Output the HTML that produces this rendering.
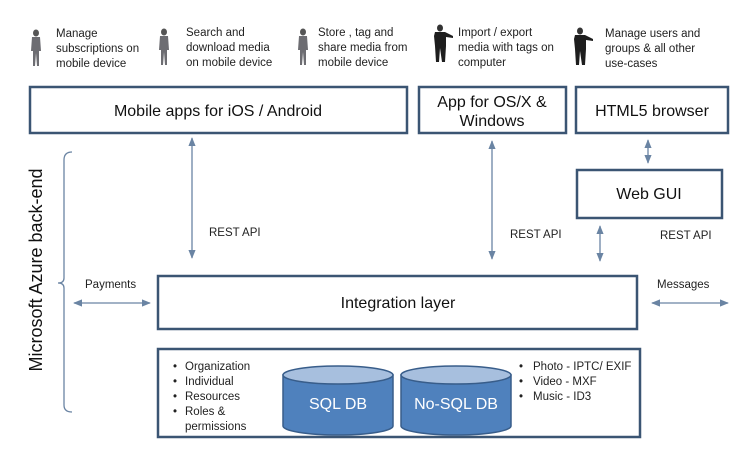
<!DOCTYPE html>
<html><head><meta charset="utf-8"><style>
html,body{margin:0;padding:0;background:#fff;}
svg{display:block;font-family:"Liberation Sans",sans-serif;}
.bx{fill:#fff;stroke:#3b5573;stroke-width:2.5;}
.t{font-size:11.5px;fill:#222;}
.l{font-size:16px;fill:#111;}
.ln{stroke:#6a84a3;stroke-width:1.3;fill:none;}
.ah{fill:#6a84a3;}
.cyl{fill:#4f81bd;stroke:#385d8a;stroke-width:1.5;}
.cyt{fill:#a7bfde;stroke:#385d8a;stroke-width:1.5;}
</style></head><body>
<svg width="750" height="460" viewBox="0 0 750 460" xmlns="http://www.w3.org/2000/svg">
<defs>
<g id="woman"><ellipse cx="5" cy="4" rx="3" ry="3.5" fill="#555"/><path d="M1,8 L9,8 L10,22 L8,22 L8,37 L6,37 L5,24 L4,37 L2,37 L2,22 L0,22 Z" fill="#6d6d72"/></g>
<g id="man"><ellipse cx="9" cy="4" rx="3" ry="3.5" fill="#333"/><path d="M4,8 L14,8 L22,12 L22,14 L15,13 L15,22 L14,38 L11,38 L9,24 L8,38 L5,38 L4,22 L3,12 Z" fill="#1e1e1e"/></g>
<marker id="a" viewBox="0 0 10 10" refX="9" refY="5" markerWidth="7" markerHeight="7" orient="auto-start-reverse"><path d="M0,1 L10,5 L0,9 Z" class="ah"/></marker>
</defs>
<use href="#woman" x="31" y="29"/>
<use href="#woman" x="159" y="28"/>
<use href="#woman" x="298" y="28"/>
<use href="#man" x="431" y="24"/>
<use href="#man" x="571" y="27"/>
<g class="t">
<text x="56" y="37">Manage</text><text x="56" y="52">subscriptions on</text><text x="56" y="67">mobile device</text>
<text x="186" y="36">Search and</text><text x="186" y="51">download media</text><text x="186" y="66">on mobile device</text>
<text x="318" y="36">Store , tag and</text><text x="318" y="51">share media from</text><text x="318" y="66">mobile device</text>
<text x="458" y="36">Import  / export</text><text x="458" y="51">media with tags on</text><text x="458" y="66">computer</text>
<text x="605" y="37">Manage users and</text><text x="605" y="52">groups &amp; all other</text><text x="605" y="67">use-cases</text>
</g>
<rect class="bx" x="30" y="87" width="377" height="46"/>
<text class="l" x="218" y="116" text-anchor="middle">Mobile apps for iOS / Android</text>
<rect class="bx" x="419" y="87" width="147" height="46"/>
<text class="l" x="492" y="107" text-anchor="middle" font-size="15">App for OS/X &amp;</text>
<text class="l" x="492" y="126" text-anchor="middle" font-size="15">Windows</text>
<rect class="bx" x="576" y="87" width="152" height="46"/>
<text class="l" x="652" y="116" text-anchor="middle" font-size="15">HTML5 browser</text>
<rect class="bx" x="577" y="170" width="145" height="48"/>
<text class="l" x="649" y="199" text-anchor="middle" font-size="15">Web GUI</text>
<line class="ln" x1="192" y1="138" x2="192" y2="258" marker-start="url(#a)" marker-end="url(#a)"/>
<line class="ln" x1="492" y1="141" x2="492" y2="259" marker-start="url(#a)" marker-end="url(#a)"/>
<line class="ln" x1="648" y1="140" x2="648" y2="163" marker-start="url(#a)" marker-end="url(#a)"/>
<line class="ln" x1="600" y1="226" x2="600" y2="261" marker-start="url(#a)" marker-end="url(#a)"/>
<line class="ln" x1="74" y1="303" x2="150" y2="303" marker-start="url(#a)" marker-end="url(#a)"/>
<line class="ln" x1="652" y1="303" x2="728" y2="303" marker-start="url(#a)" marker-end="url(#a)"/>
<g class="t" font-size="12.5">
<text x="209" y="236">REST API</text>
<text x="510" y="238">REST API</text>
<text x="660" y="239">REST API</text>
</g>
<text class="t" x="85" y="288" font-size="10.5">Payments</text>
<text class="t" x="657" y="288" font-size="10.5">Messages</text>
<path class="ln" d="M72,152 Q64,152 64,160 L64,278 Q64,283 58,283 Q64,283 64,288 L64,405 Q64,412 72,412"/>
<text x="42" y="270" font-size="18" fill="#111" text-anchor="middle" transform="rotate(-90 42 270)">Microsoft Azure back-end</text>
<rect class="bx" x="158" y="276" width="479" height="53"/>
<text class="l" x="398" y="308" text-anchor="middle">Integration layer</text>
<rect class="bx" x="158" y="349" width="482" height="88"/>
<g class="t" font-size="10.5">
<text x="173" y="370">•</text><text x="185" y="370">Organization</text>
<text x="173" y="385">•</text><text x="185" y="385">Individual</text>
<text x="173" y="400">•</text><text x="185" y="400">Resources</text>
<text x="173" y="415">•</text><text x="185" y="415">Roles &amp;</text>
<text x="185" y="430">permissions</text>
<text x="519" y="370">•</text><text x="533" y="370">Photo  - IPTC/ EXIF</text>
<text x="519" y="385">•</text><text x="533" y="385">Video - MXF</text>
<text x="519" y="400">•</text><text x="533" y="400">Music - ID3</text>
</g>
<path class="cyl" d="M283,375 L283,426 A55,9 0 0 0 393,426 L393,375 Z"/>
<ellipse class="cyt" cx="338" cy="375" rx="55" ry="9"/>
<text x="338" y="409" text-anchor="middle" font-size="16" fill="#fff">SQL DB</text>
<path class="cyl" d="M401,375 L401,426 A55,9 0 0 0 511,426 L511,375 Z"/>
<ellipse class="cyt" cx="456" cy="375" rx="55" ry="9"/>
<text x="456" y="409" text-anchor="middle" font-size="16" fill="#fff">No-SQL DB</text>
</svg>
</body></html>
